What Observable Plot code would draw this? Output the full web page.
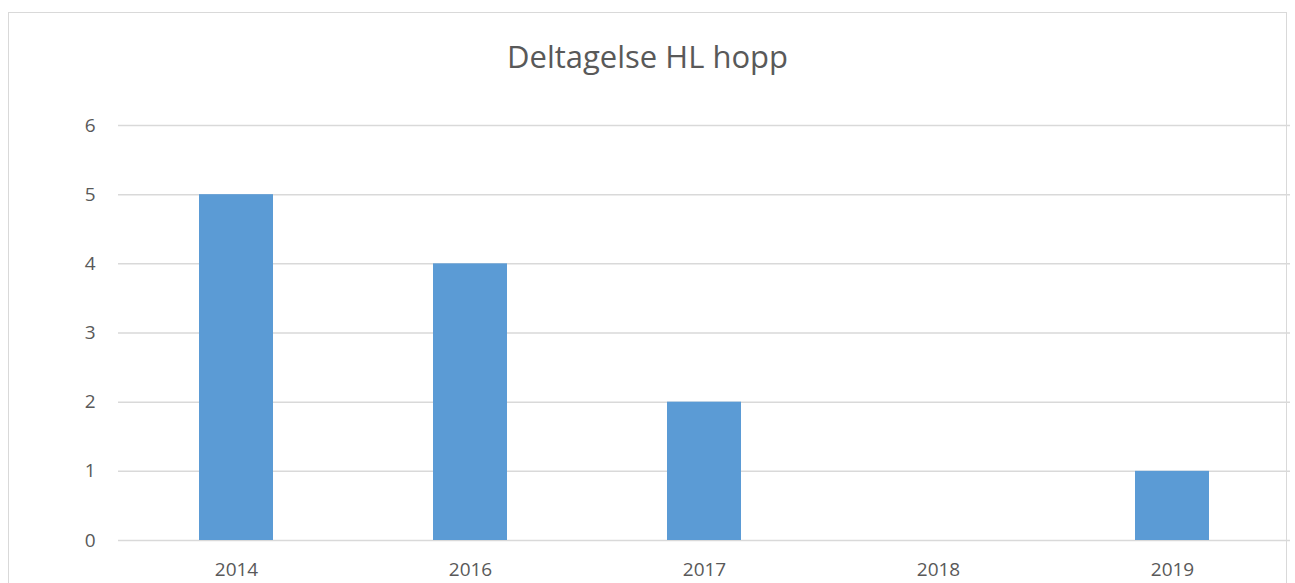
<!DOCTYPE html>
<html>
<head>
<meta charset="utf-8">
<script src="https://cdn.jsdelivr.net/npm/d3@7"></script>
<script src="https://cdn.jsdelivr.net/npm/@observablehq/plot@0.6"></script>
<style>
  html, body { margin: 0; padding: 0; background: #fff; width: 1295px; height: 583px; overflow: hidden; }
  #frame { position: absolute; left: 8px; top: 12px; width: 1279px; height: 640px; border: 1.5px solid #d9d9d9; box-sizing: border-box; }
  #title { position: absolute; left: 0; width: 1295px; top: 36px; text-align: center; font-family: "Open Sans", sans-serif; font-size: 31px; color: #595959; line-height: 40px; }
  #chart { position: absolute; left: 0; top: 0; }
</style>
</head>
<body>
<div id="frame"></div>
<div id="title">Deltagelse HL hopp</div>
<div id="chart"></div>
<script>
const years = ["2014", "2016", "2017", "2018", "2019"];
const values = [5, 4, 2, 0, 1];
const yTicks = [0, 1, 2, 3, 4, 5, 6];

const data = years.map((y, i) => ({year: y, value: values[i]}));

const chart = Plot.plot({
  width: 1295,
  height: 583,
  marginLeft: 118,
  marginRight: 5,
  marginTop: 125,
  marginBottom: 43,
  style: {fontFamily: "Open Sans, sans-serif", fontSize: "19px", color: "#595959", background: "transparent"},
  x: {domain: years, paddingInner: 0.684, paddingOuter: 0.342, label: null},
  y: {domain: [0, 6], ticks: yTicks, label: null},
  marks: [
    Plot.gridY(yTicks, {stroke: "#d9d9d9", strokeOpacity: 1, strokeWidth: 1.5}),
    Plot.barY(data, {x: "year", y: "value", fill: "#5b9bd5"}),
    Plot.axisY(yTicks, {tickSize: 0, tickPadding: 23, tickFormat: "d", fill: "#595959"}),
    Plot.axisX({tickSize: 0, tickPadding: 22, fill: "#595959"})
  ]
});
document.getElementById("chart").appendChild(chart);
</script>
</body>
</html>
